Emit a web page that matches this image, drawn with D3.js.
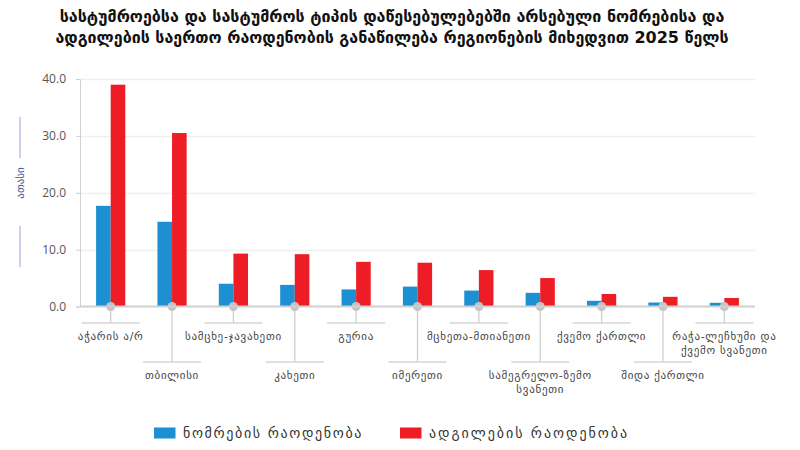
<!DOCTYPE html>
<html>
<head>
<meta charset="utf-8">
<script src="https://cdn.jsdelivr.net/npm/d3@7"></script>
<style>
  body { margin: 0; background: #fff; }
  svg { display: block; font-family: "DejaVu Sans", sans-serif; }
</style>
</head>
<body>
<svg width="800" height="450"></svg>
<script>
const titleLines = [
  'სასტუმროებსა და სასტუმროს ტიპის დაწესებულებებში არსებული ნომრებისა და',
  'ადგილების საერთო რაოდენობის განაწილება რეგიონების მიხედვით 2025 წელს'
]
const categories = [
  ['აჭარის ა/რ'],
  ['თბილისი'],
  ['სამცხე-ჯავახეთი'],
  ['კახეთი'],
  ['გურია'],
  ['იმერეთი'],
  ['მცხეთა-მთიანეთი'],
  ['სამეგრელო-ზემო', 'სვანეთი'],
  ['ქვემო ქართლი'],
  ['შიდა ქართლი'],
  ['რაჭა-ლეჩხუმი და', 'ქვემო სვანეთი']
]
const rooms = [17.7, 14.9, 4.0, 3.8, 3.0, 3.5, 2.8, 2.4, 1.0, 0.7, 0.65]
const beds = [39.0, 30.5, 9.3, 9.2, 7.85, 7.7, 6.4, 5.0, 2.2, 1.7, 1.5]
const yTicks = [0, 10, 20, 30, 40]
const seriesNames = ['ნომრების რაოდენობა', 'ადგილების რაოდენობა']
const seriesColors = ['#1c90d3', '#ee1c25']
const yTitle = 'ათასი'

const svg = d3.select('svg')
const margin = {top: 79, right: 45, bottom: 144, left: 80}
const width = 800
const height = 450
const baseY = height - margin.bottom + 0.5

// stretch text to a measured width with letter spacing
function fitSpacing(txt, target) {
  const w = txt.node().getComputedTextLength()
  const n = txt.text().length
  txt.attr('letter-spacing', (target - w) / n)
}

const x0 = d3.scaleBand()
  .domain(d3.range(categories.length))
  .range([margin.left, width - margin.right])
const x1 = d3.scaleBand()
  .domain([0, 1])
  .range([-14.6, 14.6])
const y = d3.scaleLinear()
  .domain([0, 40])
  .range([baseY, margin.top])

// title
const title = svg.append('g')
titleLines.forEach((t, i) => {
  const txt = title.append('text')
    .attr('x', 392)
    .attr('y', 21.5 + i * 21.5)
    .attr('text-anchor', 'middle')
    .attr('font-weight', 'bold')
    .attr('font-size', 14)
    .attr('fill', '#111')
    .text(t)
  const w = txt.node().getComputedTextLength()
  const target = i === 0 ? 665 : 674
  txt.attr('font-size', 14 * target / w)
})

// grid
svg.append('g')
  .selectAll('line')
  .data(yTicks.filter(d => d > 0))
  .join('line')
  .attr('x1', margin.left)
  .attr('x2', width - margin.right)
  .attr('y1', d => Math.round(y(d)) + 0.5)
  .attr('y2', d => Math.round(y(d)) + 0.5)
  .attr('stroke', '#efefef')
  .attr('stroke-width', 1.5)

// y axis
const yAxis = d3.axisLeft(y)
  .tickValues(yTicks)
  .tickFormat(d3.format('.1f'))
  .tickSize(4)
  .tickPadding(10)
const yg = svg.append('g')
  .attr('transform', `translate(${margin.left},0)`)
  .call(yAxis)
yg.select('.domain').attr('stroke', '#d0d0d0')
yg.selectAll('.tick line').attr('stroke', '#d0d0d0')
yg.selectAll('.tick text')
  .attr('fill', '#555')
  .attr('font-size', 12)
  .attr('font-family', '"Open Sans", sans-serif')

// y title
svg.append('text')
  .attr('transform', 'translate(24,183) rotate(-90)')
  .attr('text-anchor', 'middle')
  .attr('font-size', 11)
  .attr('fill', '#4a5590')
  .text(yTitle)
svg.append('g')
  .selectAll('line')
  .data([[117, 158], [226, 267]])
  .join('line')
  .attr('x1', 20).attr('x2', 20)
  .attr('y1', d => d[0]).attr('y2', d => d[1])
  .attr('stroke', '#b9c2e6')
  .attr('stroke-width', 1.5)

// bars
const groups = svg.append('g')
  .selectAll('g')
  .data(categories.map((c, i) => i))
  .join('g')
  .attr('transform', i => `translate(${x0(i) + x0.bandwidth() / 2},0)`)
groups.selectAll('rect')
  .data(i => [rooms[i], beds[i]])
  .join('rect')
  .attr('x', (d, j) => x1(j))
  .attr('width', x1.bandwidth())
  .attr('y', d => y(d))
  .attr('height', d => baseY - y(d))
  .attr('fill', (d, j) => seriesColors[j])

// baseline
svg.append('line')
  .attr('x1', margin.left)
  .attr('x2', width - margin.right)
  .attr('y1', baseY)
  .attr('y2', baseY)
  .attr('stroke', '#cfcfcf')
  .attr('stroke-width', 2)

// label connectors
const connectors = groups.append('g')
connectors.append('line')
  .attr('x1', 0).attr('x2', 0)
  .attr('y1', baseY)
  .attr('y2', i => i % 2 === 0 ? 323 : 362)
  .attr('stroke', '#cfcfcf')
  .attr('stroke-width', 1.3)
connectors.append('line')
  .attr('x1', -29).attr('x2', 29)
  .attr('y1', i => i % 2 === 0 ? 323 : 362)
  .attr('y2', i => i % 2 === 0 ? 323 : 362)
  .attr('stroke', '#d6d6d6')
  .attr('stroke-width', 1.3)
connectors.append('circle')
  .attr('cx', 0)
  .attr('cy', baseY)
  .attr('r', 4.5)
  .attr('fill', '#c4c4c4')

connectors.append('text')
  .attr('text-anchor', 'middle')
  .attr('font-size', 11)
  .attr('letter-spacing', 0.7)
  .attr('fill', '#444')
  .attr('y', i => i % 2 === 0 ? 340 : 379)
  .selectAll('tspan')
  .data(i => categories[i])
  .join('tspan')
  .attr('x', 0)
  .attr('dy', (d, k) => k === 0 ? 0 : 14)
  .text(d => d)

// legend
const legendX = [154, 400]
const legendW = [180, 200]
const legend = svg.append('g')
  .selectAll('g')
  .data(seriesNames)
  .join('g')
  .attr('transform', (d, i) => `translate(${legendX[i]},427.5)`)
legend.append('rect')
  .attr('width', 21.5)
  .attr('height', 11)
  .attr('fill', (d, i) => seriesColors[i])
legend.append('text')
  .attr('x', 29)
  .attr('y', 10.5)
  .attr('font-size', 14)
  .attr('fill', '#333')
  .text(d => d)
  .each(function (d, i) { fitSpacing(d3.select(this), legendW[i]) })
</script>
</body>
</html>
